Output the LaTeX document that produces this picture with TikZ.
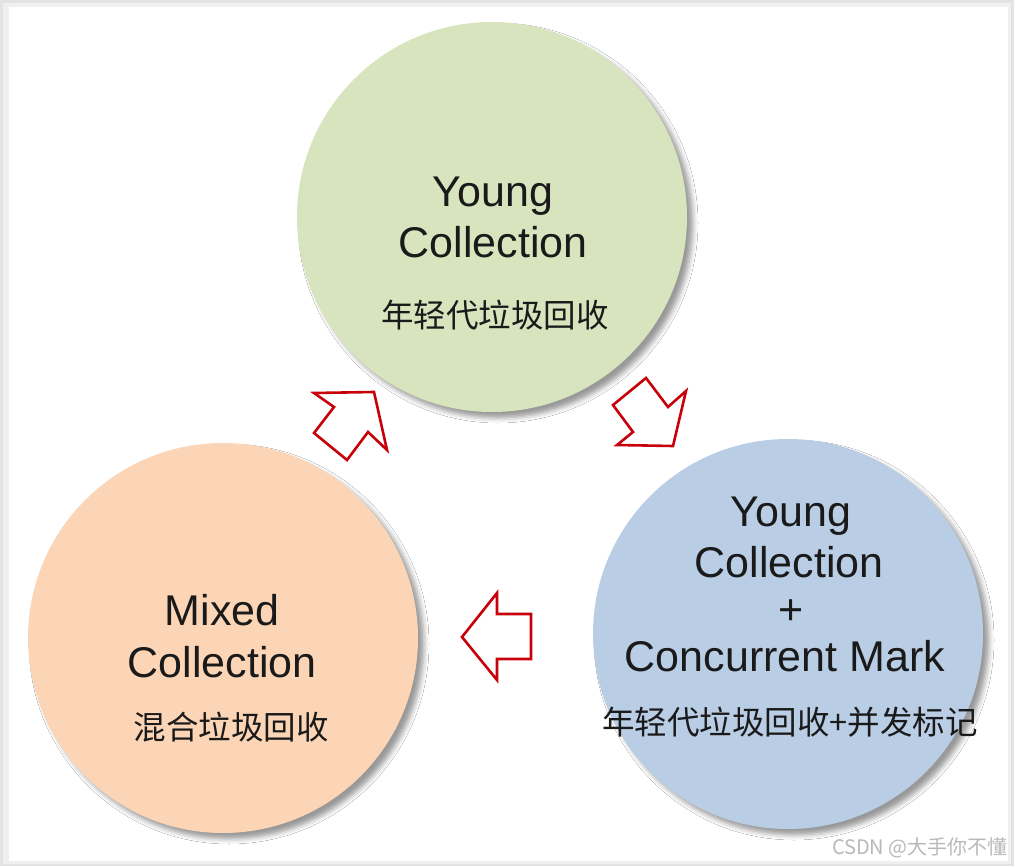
\documentclass[tikz,border=0pt]{standalone}
\usepackage{fontspec}
\setmainfont{Liberation Sans}
\newfontfamily\cjk{Noto Sans CJK SC}
\usetikzlibrary{shadows.blur}
\definecolor{cgreen}{HTML}{D7E4BD}
\definecolor{corange}{HTML}{FBD5B5}
\definecolor{cblue}{HTML}{B9CDE5}
\definecolor{cred}{HTML}{C8000A}
\definecolor{ctext}{HTML}{1A1A1A}
\tikzset{
  phase/.style={circle, minimum size=390pt, inner sep=0pt, draw=none,
    blur shadow={shadow xshift=6pt, shadow yshift=-6pt, shadow blur radius=5pt, shadow opacity=40}},
  entext/.style={anchor=base, text=ctext, font=\fontsize{43}{50}\selectfont, inner sep=0pt},
  zhtext/.style={anchor=center, text=ctext, font=\cjk\fontsize{32.5}{36}\selectfont, inner sep=0pt},
  blockarrow/.style={draw=cred, line width=2.6pt, line join=miter, fill=white}
}
\begin{document}
\begin{tikzpicture}[x=1pt,y=-1pt]
\useasboundingbox (0,0) rectangle (1014,866);
% frame
\fill[gray!22] (0,0) rectangle (1014,866);
\fill[gray!12] (3,3) rectangle (1011,864);
\fill[white] (9,7) rectangle (1008,861);
% circles
\node[phase, fill=cgreen] (young) at (492,217) {};
\node[phase, fill=corange] (mixed) at (223,638) {};
\node[phase, fill=cblue] (yconc) at (788,634) {};
% green texts
\node[entext] (y1) at (493,207) {Young};
\node[entext] (y2) at (493,258) {Collection};
\node[zhtext] (y3) at (495,315) {年轻代垃圾回收};
% orange texts
\node[entext] (m1) at (222,625) {Mixed};
\node[entext] (m2) at (222,677) {Collection};
\node[zhtext] (m3) at (231,727) {混合垃圾回收};
% blue texts
\node[entext] (b1) at (791,526) {Young};
\node[entext] (b2) at (789,577) {Collection};
\node[entext] (b3) at (791,624) {+};
\node[entext] (b4) at (785,671) {Concurrent Mark};
\node[zhtext] (b5) at (790,722) {年轻代垃圾回收+并发标记};
% block arrows
\draw[blockarrow] (374,392) -- (387,450) -- (368,432) -- (347,460) -- (314,433) -- (334,407) -- (314,393) -- cycle;
\draw[blockarrow] (673,446) -- (617,445) -- (633,432) -- (613,405) -- (646,378) -- (668,407) -- (686,391) -- cycle;
\draw[blockarrow] (462,637) -- (497,593) -- (497,614) -- (531,614) -- (531,659) -- (497,659) -- (497,680) -- cycle;
% watermark
\node[anchor=east, text=gray!55, font=\cjk\fontsize{20}{22}\selectfont, inner sep=0pt] (wm) at (1008,848) {CSDN @大手你不懂};
\end{tikzpicture}
\end{document}
